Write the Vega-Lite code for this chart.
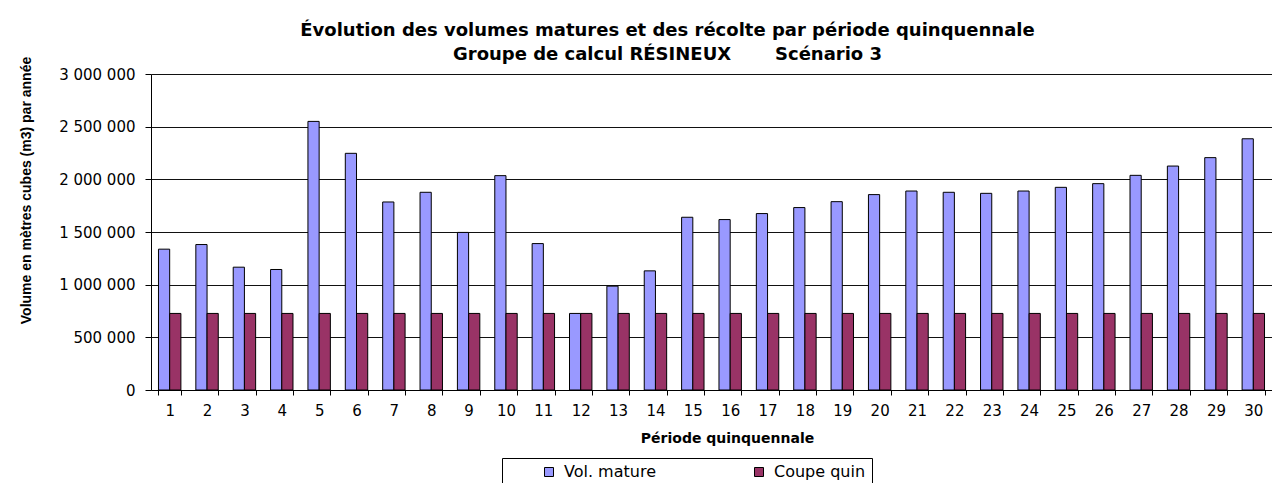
{
  "$schema": "https://vega.github.io/schema/vega-lite/v6.json",
  "autosize": "none",
  "width": 1121,
  "height": 316,
  "padding": {"left": 151, "top": 74, "right": 0, "bottom": 93},
  "background": "white",
  "config": {
    "view": {"stroke": null},
    "locale": {"number": {"decimal": ",", "thousands": "\u00a0", "grouping": [3], "currency": ["", " $"]}},
    "font": "DejaVu Sans"
  },
  "title": {
    "text": ["Évolution des volumes matures et des récolte par période quinquennale", "Groupe de calcul RÉSINEUX\u00a0\u00a0\u00a0\u00a0\u00a0\u00a0\u00a0Scénario 3"],
    "anchor": "middle",
    "frame": "group",
    "dx": -44,
    "font": "DejaVu Sans",
    "fontSize": 18,
    "fontWeight": "bold",
    "color": "black",
    "lineHeight": 24,
    "offset": -8
  },
  "data": {
    "values": [
      {"periode": 1, "serie": "Vol. mature", "volume": 1337000},
      {"periode": 2, "serie": "Vol. mature", "volume": 1381000},
      {"periode": 3, "serie": "Vol. mature", "volume": 1166000},
      {"periode": 4, "serie": "Vol. mature", "volume": 1144000},
      {"periode": 5, "serie": "Vol. mature", "volume": 2550000},
      {"periode": 6, "serie": "Vol. mature", "volume": 2247000},
      {"periode": 7, "serie": "Vol. mature", "volume": 1785000},
      {"periode": 8, "serie": "Vol. mature", "volume": 1877000},
      {"periode": 9, "serie": "Vol. mature", "volume": 1496000},
      {"periode": 10, "serie": "Vol. mature", "volume": 2035000},
      {"periode": 11, "serie": "Vol. mature", "volume": 1390000},
      {"periode": 12, "serie": "Vol. mature", "volume": 727000},
      {"periode": 13, "serie": "Vol. mature", "volume": 986000},
      {"periode": 14, "serie": "Vol. mature", "volume": 1131000},
      {"periode": 15, "serie": "Vol. mature", "volume": 1640000},
      {"periode": 16, "serie": "Vol. mature", "volume": 1618000},
      {"periode": 17, "serie": "Vol. mature", "volume": 1675000},
      {"periode": 18, "serie": "Vol. mature", "volume": 1732000},
      {"periode": 19, "serie": "Vol. mature", "volume": 1788000},
      {"periode": 20, "serie": "Vol. mature", "volume": 1855000},
      {"periode": 21, "serie": "Vol. mature", "volume": 1889000},
      {"periode": 22, "serie": "Vol. mature", "volume": 1877000},
      {"periode": 23, "serie": "Vol. mature", "volume": 1867000},
      {"periode": 24, "serie": "Vol. mature", "volume": 1889000},
      {"periode": 25, "serie": "Vol. mature", "volume": 1924000},
      {"periode": 26, "serie": "Vol. mature", "volume": 1959000},
      {"periode": 27, "serie": "Vol. mature", "volume": 2038000},
      {"periode": 28, "serie": "Vol. mature", "volume": 2126000},
      {"periode": 29, "serie": "Vol. mature", "volume": 2206000},
      {"periode": 30, "serie": "Vol. mature", "volume": 2385000},
      {"periode": 1, "serie": "Coupe quin", "volume": 727000},
      {"periode": 2, "serie": "Coupe quin", "volume": 727000},
      {"periode": 3, "serie": "Coupe quin", "volume": 727000},
      {"periode": 4, "serie": "Coupe quin", "volume": 727000},
      {"periode": 5, "serie": "Coupe quin", "volume": 727000},
      {"periode": 6, "serie": "Coupe quin", "volume": 727000},
      {"periode": 7, "serie": "Coupe quin", "volume": 727000},
      {"periode": 8, "serie": "Coupe quin", "volume": 727000},
      {"periode": 9, "serie": "Coupe quin", "volume": 727000},
      {"periode": 10, "serie": "Coupe quin", "volume": 727000},
      {"periode": 11, "serie": "Coupe quin", "volume": 727000},
      {"periode": 12, "serie": "Coupe quin", "volume": 727000},
      {"periode": 13, "serie": "Coupe quin", "volume": 727000},
      {"periode": 14, "serie": "Coupe quin", "volume": 727000},
      {"periode": 15, "serie": "Coupe quin", "volume": 727000},
      {"periode": 16, "serie": "Coupe quin", "volume": 727000},
      {"periode": 17, "serie": "Coupe quin", "volume": 727000},
      {"periode": 18, "serie": "Coupe quin", "volume": 727000},
      {"periode": 19, "serie": "Coupe quin", "volume": 727000},
      {"periode": 20, "serie": "Coupe quin", "volume": 727000},
      {"periode": 21, "serie": "Coupe quin", "volume": 727000},
      {"periode": 22, "serie": "Coupe quin", "volume": 727000},
      {"periode": 23, "serie": "Coupe quin", "volume": 727000},
      {"periode": 24, "serie": "Coupe quin", "volume": 727000},
      {"periode": 25, "serie": "Coupe quin", "volume": 727000},
      {"periode": 26, "serie": "Coupe quin", "volume": 727000},
      {"periode": 27, "serie": "Coupe quin", "volume": 727000},
      {"periode": 28, "serie": "Coupe quin", "volume": 727000},
      {"periode": 29, "serie": "Coupe quin", "volume": 727000},
      {"periode": 30, "serie": "Coupe quin", "volume": 727000}
    ]
  },
  "mark": {"type": "bar", "stroke": "black", "strokeWidth": 1},
  "encoding": {
    "x": {
      "field": "periode",
      "type": "ordinal",
      "scale": {"paddingInner": 0.4, "paddingOuter": 0.2},
      "axis": {
        "title": "Période quinquennale",
        "titleFont": "DejaVu Sans",
        "titleFontSize": 14,
        "titleFontWeight": "bold",
        "titleColor": "black",
        "titleX": 576,
        "titleY": 48,
        "titleBaseline": "middle",
        "titleAnchor": null,
        "labelAngle": 0,
        "labelFont": "DejaVu Sans",
        "labelFontSize": 15,
        "labelColor": "black",
        "labelPadding": 8,
        "tickBand": "extent",
        "tickSize": 5,
        "tickColor": "black",
        "domainColor": "black",
        "grid": false
      }
    },
    "xOffset": {"field": "serie", "type": "nominal", "sort": ["Vol. mature", "Coupe quin"]},
    "y": {
      "field": "volume",
      "type": "quantitative",
      "scale": {"domain": [0, 3000000], "nice": false},
      "axis": {
        "values": [0, 500000, 1000000, 1500000, 2000000, 2500000, 3000000],
        "format": ",d",
        "title": "Volume en mètres cubes (m3) par année",
        "titleFont": "Liberation Sans",
        "titleFontSize": 14,
        "titleFontWeight": "bold",
        "titleColor": "black",
        "titleX": -125,
        "titleY": 116,
        "titleAngle": -90,
        "titleAlign": "center",
        "titleBaseline": "middle",
        "labelFont": "DejaVu Sans",
        "labelFontSize": 15,
        "labelColor": "black",
        "labelPadding": 10,
        "tickSize": 6,
        "tickColor": "black",
        "domainColor": "black",
        "grid": true,
        "gridColor": "#111111",
        "gridWidth": 1
      }
    },
    "color": {
      "field": "serie",
      "type": "nominal",
      "sort": ["Vol. mature", "Coupe quin"],
      "scale": {"domain": ["Vol. mature", "Coupe quin"], "range": ["#9999FF", "#993366"]},
      "legend": {
        "orient": "none",
        "legendX": 351,
        "legendY": 384,
        "direction": "horizontal",
        "title": "\u00a0",
        "titleOrient": "left",
        "titleFontSize": 16,
        "titlePadding": 33,
        "padding": 6,
        "strokeColor": "black",
        "fillColor": "white",
        "symbolType": "square",
        "symbolSize": 81,
        "symbolStrokeColor": "black",
        "symbolStrokeWidth": 1,
        "symbolOpacity": 1,
        "labelFont": "DejaVu Sans",
        "labelFontSize": 16,
        "labelColor": "black",
        "labelOffset": 7,
        "columnPadding": 95,
        "labelExpr": "datum.label == 'Coupe quin' ? 'Coupe quin\u00a0\u00a0\u00a0\u00a0\u00a0\u00a0\u00a0' : datum.label"
      }
    }
  }
}
